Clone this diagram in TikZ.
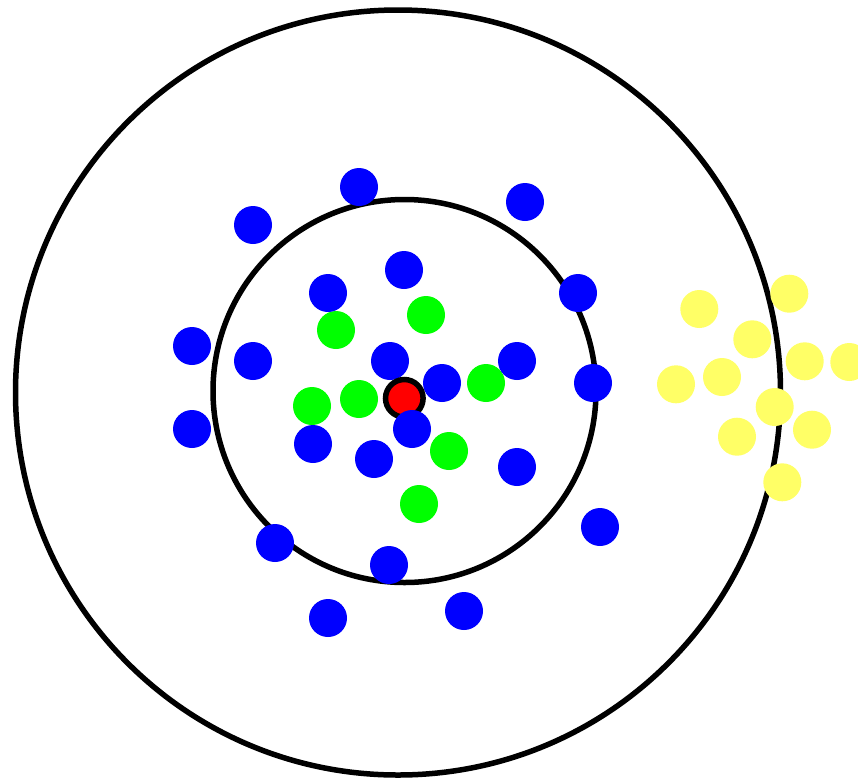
\documentclass[tikz,border=0pt]{standalone}
\begin{document}
\begin{tikzpicture}[x=1pt,y=-1pt,
  ring/.style={draw=black,line width=5.5pt},
  bdot/.style={fill={rgb,255:red,0;green,0;blue,255}},
  gdot/.style={fill={rgb,255:red,0;green,255;blue,0}},
  ydot/.style={fill={rgb,255:red,255;green,255;blue,102}}]
\useasboundingbox (0,0) rectangle (858,777);
\fill[white] (0,0) rectangle (858,777);
\draw[ring] (398,392.5) circle (382.5);
\draw[ring] (404.5,391) circle (191.5);
% green
\foreach \p in {(336,330),(426,315),(312,406),(359,399),(486,383),(449,451),(419,504)}
  \fill[gdot] \p circle (19);
% blue under red
\fill[bdot] (390,361) circle (19);
\fill[bdot] (442,383) circle (19);
% red
\draw[line width=5.5pt,fill={rgb,255:red,255;green,0;blue,0}] (404.3,398.3) circle (18.8);
% blue
\foreach \p in {(359,187),(525,202),(253,225),(404,270),(328,293),(578,293),(192,346),(253,361),(517,361),(593,383),(192,429),(313,444),(412,429),(374,459),(517,467),(600,527),(275,543),(389,565),(328,618),(464,611)}
  \fill[bdot] \p circle (19);
% yellow
\foreach \p in {(699.3,309),(789.3,293.7),(752.3,339.3),(804.7,361.3),(849.3,362),(676,384.3),(722,377),(774.7,407),(812,429.7),(737,436.7),(782.3,482.3)}
  \fill[ydot] \p circle (19);
\end{tikzpicture}
\end{document}
